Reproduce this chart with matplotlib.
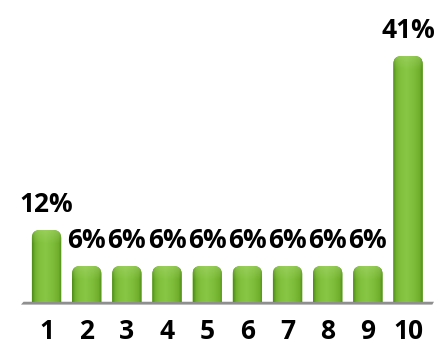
import numpy as np
import matplotlib
matplotlib.use("Agg")
import matplotlib.pyplot as plt
from matplotlib.patches import FancyBboxPatch, Polygon
from matplotlib.colors import LinearSegmentedColormap
import matplotlib.transforms as mtransforms

categories = ["1", "2", "3", "4", "5", "6", "7", "8", "9", "10"]
values = [12, 6, 6, 6, 6, 6, 6, 6, 6, 41]
labels = ["12%", "6%", "6%", "6%", "6%", "6%", "6%", "6%", "6%", "41%"]

W, H = 444, 353
fig = plt.figure(figsize=(W / 100, H / 100), dpi=100)
fig.patch.set_facecolor("white")

# axes placed in pixel units
left_px, right_px = 20, 440
base_px = 302  # from top
ax = fig.add_axes([left_px / W, (H - base_px) / H, (right_px - left_px) / W, base_px / H])
ax.set_facecolor("none")
for s in ax.spines.values():
    s.set_visible(False)
ax.set_xticks([])
ax.set_yticks([])

x = np.arange(len(values))
spacing_px = 40.17
center0_px = 46.5
x0 = -(center0_px - left_px) / spacing_px
x1 = x0 + (right_px - left_px) / spacing_px
px_per_unit_y = 6.0
ymax = base_px / px_per_unit_y

bar_w = 0.73
green_cmap = LinearSegmentedColormap.from_list(
    "bar_green",
    [(0.0, "#4c8a18"), (0.10, "#72b22e"), (0.25, "#80c03c"), (0.45, "#88c746"),
     (0.7, "#7ebd3a"), (0.90, "#70ae2c"), (1.0, "#4c8a18")],
)

# floor shadow under the bars
floor_tr = mtransforms.blended_transform_factory(ax.transAxes, ax.transData)
floor_left = (21 - left_px) / (right_px - left_px)
floor_right = (434 - left_px) / (right_px - left_px)
fh = 2.6 / px_per_unit_y
floor = Polygon(
    [[floor_left, -fh], [floor_right - 0.004, -fh], [floor_right, 0.1 * fh],
     [floor_left + 0.006, 0.1 * fh]],
    closed=True, transform=floor_tr, facecolor="#8f8f8f", edgecolor="none",
    clip_on=False, zorder=1,
)
ax.add_patch(floor)

radius_px = 8.0
for xi, v in zip(x, values):
    left = xi - bar_w / 2
    r_y = radius_px / px_per_unit_y
    r_x = radius_px / spacing_px
    patch = FancyBboxPatch(
        (left, -2 * r_y), bar_w, v + 2 * r_y,
        boxstyle=f"round,pad=0,rounding_size={r_x}",
        mutation_aspect=r_y / r_x,
        facecolor="#7fbf3c", edgecolor="none", zorder=2,
    )
    ax.add_patch(patch)
    # horizontal shading across the bar
    grad = np.tile(np.linspace(0, 1, 64), (4, 1))
    im = ax.imshow(
        grad, cmap=green_cmap, aspect="auto", interpolation="bicubic",
        extent=(left, left + bar_w, 0, v), zorder=3, origin="lower",
    )
    im.set_clip_path(patch)
    # lighter rounded cap
    top_h = min(v, 14 / px_per_unit_y)
    rgba = np.zeros((32, 4, 4))
    rgba[..., :3] = [0.70, 0.87, 0.48]
    rgba[..., 3] = np.tile(np.linspace(0, 0.4, 32)[:, None], (1, 4))
    im2 = ax.imshow(
        rgba, aspect="auto", interpolation="bilinear",
        extent=(left, left + bar_w, v - top_h, v), zorder=4, origin="lower",
    )
    im2.set_clip_path(patch)

ax.set_xlim(x0, x1)
ax.set_ylim(0, ymax)

font = dict(family=["Open Sans", "DejaVu Sans"], fontweight="bold", fontsize=19, color="black")
for xi, v, lab in zip(x, values, labels):
    ax.text(xi, v + 18.5 / px_per_unit_y, lab, ha="center", va="baseline", **font)

for xi, c in zip(x, categories):
    ax.text(xi, -(339 - base_px) / px_per_unit_y, c, ha="center", va="baseline",
            clip_on=False, **font)

fig.savefig("out.png", dpi=100, facecolor="white")
